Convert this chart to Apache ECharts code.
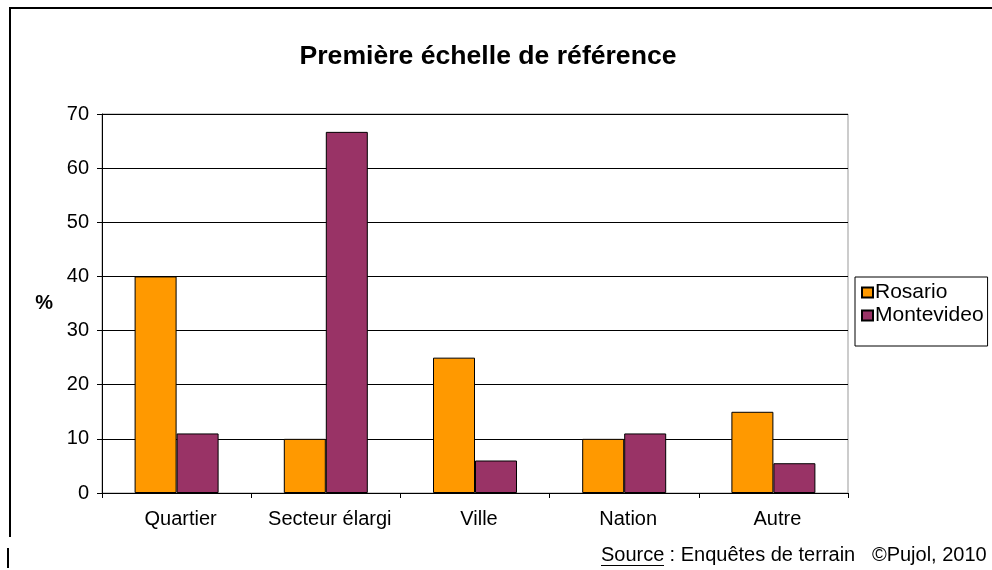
<!DOCTYPE html>
<html><head><meta charset="utf-8">
<script src="https://cdn.jsdelivr.net/npm/echarts@6/dist/echarts.min.js"></script>
<style>html,body{margin:0;padding:0;background:#fff}#c{width:992px;height:570px}</style>
</head><body><div id="c"></div>
<script>
const categories = ['Quartier', 'Secteur élargi', 'Ville', 'Nation', 'Autre'];
const rosario = [40, 10, 25, 10, 15];
const montevideo = [11, 66.7, 6, 11, 5.5];
const seriesNames = ['Rosario', 'Montevideo'];
const yTicks = [0, 10, 20, 30, 40, 50, 60, 70];

const FONT = '"Liberation Sans", Arial, sans-serif';
const chart = echarts.init(document.getElementById('c'));
chart.setOption({
  animation: false,
  textStyle: { fontFamily: FONT },
  title: {
    text: 'Première échelle de référence',
    left: 483, top: 38, textAlign: 'center',
    textStyle: { fontSize: 26.6, fontWeight: 'bold', color: '#000', fontFamily: FONT }
  },
  grid: { left: 102, right: 144, top: 114, bottom: 77, show: true, borderColor: '#999', borderWidth: 1 },
  legend: {
    orient: 'vertical', left: 855, top: 277,
    itemWidth: 11, itemHeight: 10, itemGap: 2,
    icon: 'rect',
    padding: [5, 4, 20, 6],
    borderColor: '#000', borderWidth: 1,
    textStyle: { fontSize: 21, lineHeight: 20, color: '#000', fontFamily: FONT, padding: [0, 0, 0, -3] },
    data: seriesNames
  },
  xAxis: {
    type: 'category', data: categories,
    axisLine: { lineStyle: { color: '#000' } },
    axisTick: { show: true, interval: 0, length: 5, lineStyle: { color: '#000' } },
    axisLabel: { interval: 0, fontSize: 20, color: '#000', margin: 16, fontFamily: FONT, padding: [0, 0, 0, 8] }
  },
  yAxis: {
    type: 'value', min: yTicks[0], max: yTicks[yTicks.length - 1], interval: 10,
    name: '%', nameLocation: 'middle', nameGap: 49, nameRotate: 0,
    nameTextStyle: { fontSize: 20, fontWeight: 'bold', color: '#000', fontFamily: FONT },
    axisLine: { show: true, lineStyle: { color: '#000' } },
    axisTick: { show: true, length: 5, lineStyle: { color: '#000' } },
    axisLabel: { fontSize: 20, color: '#000', margin: 13, fontFamily: FONT },
    splitLine: { lineStyle: { color: '#000', width: 1 } }
  },
  series: [
    { name: seriesNames[0], type: 'bar', data: rosario, barWidth: 42, barGap: '0%',
      itemStyle: { color: '#FF9900', borderColor: '#000', borderWidth: 1 } },
    { name: seriesNames[1], type: 'bar', data: montevideo, barWidth: 42, barGap: '0%',
      itemStyle: { color: '#993366', borderColor: '#000', borderWidth: 1 } }
  ],
  graphic: [
    { type: 'line', shape: { x1: 10, y1: 8, x2: 10, y2: 537 }, style: { stroke: '#000', lineWidth: 2 } },
    { type: 'line', shape: { x1: 9, y1: 8, x2: 992, y2: 8 }, style: { stroke: '#000', lineWidth: 2 } },
    { type: 'line', shape: { x1: 8, y1: 548, x2: 8, y2: 568 }, style: { stroke: '#000', lineWidth: 2 } },
    { type: 'text', left: 601, top: 545, style: { text: 'Source', fontSize: 20, fill: '#000', fontFamily: FONT } },
    { type: 'line', shape: { x1: 601, y1: 565.5, x2: 664, y2: 565.5 }, style: { stroke: '#000', lineWidth: 1 } },
    { type: 'text', left: 664, top: 545, style: { text: ' : Enquêtes de terrain   ©Pujol, 2010', fontSize: 20, fill: '#000', fontFamily: FONT } }
  ]
});
</script></body></html>
